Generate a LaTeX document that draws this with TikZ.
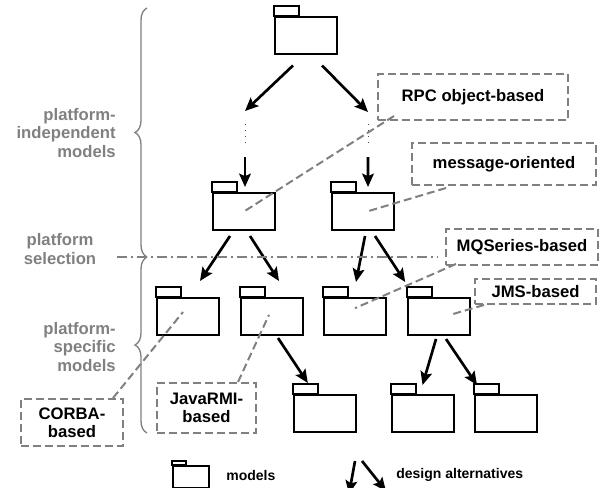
\documentclass[tikz,border=0pt]{standalone}
\usepackage{fontspec}
\setmainfont{Liberation Sans}
\usetikzlibrary{arrows.meta,calc,decorations.pathreplacing}
\definecolor{mgray}{HTML}{808080}
\tikzset{
  >={Stealth[length=8pt,width=7pt,inset=1.5pt]},
  mfolder/.style={draw=black, fill=white, line width=1.2pt, inner sep=0pt,
                  minimum width=37.2pt, minimum height=22.2pt,
                  append after command={\pgfextra{\draw[line width=1.2pt]
                    (\tikzlastnode.north west) rectangle ++(15pt,6pt);}}},
  mlegfolder/.style={draw=black, fill=white, line width=1.2pt, inner sep=0pt,
                  minimum width=21.6pt, minimum height=13pt,
                  append after command={\pgfextra{\draw[line width=1.2pt]
                    (\tikzlastnode.north west) rectangle ++(8.4pt,2.6pt);}}},
  mnote/.style={draw=mgray, line width=1.2pt, dash pattern=on 4.8pt off 2.4pt,
                inner sep=0pt, align=center,
                font=\bfseries\fontsize{10}{11}\selectfont},
  mlink/.style={mgray, line width=1.2pt, dash pattern=on 4.8pt off 2.4pt},
  malt/.style={->, line width=1.6pt},
  mdots/.style={black!70, line width=0.6pt, dash pattern=on 0.6pt off 3pt},
  msep/.style={mgray, line width=0.9pt, dash pattern=on 6pt off 2.5pt on 1pt off 2.5pt},
  mbrace/.style={mgray, line width=0.8pt, decorate,
                 decoration={brace, amplitude=7.2pt}},
  mside/.style={mgray, inner sep=0pt, font=\bfseries\fontsize{10}{11}\selectfont},
  mleg/.style={inner sep=0pt, font=\bfseries\fontsize{8.4}{10}\selectfont},
}

\begin{document}
\begin{tikzpicture}[x=0.6pt,y=-0.6pt]
  \useasboundingbox (0,0) rectangle (602,487);
  \clip (0,0) rectangle (602,487);

  % --- models ---
  \node[mfolder] (top)    at (306,36) {};
  \node[mfolder] (rpcf)   at (244,211.5) {};
  \node[mfolder] (msgf)   at (363,211.5) {};
  \node[mfolder] (corbaf) at (188,316.5) {};
  \node[mfolder] (rmif)   at (272,316.5) {};
  \node[mfolder] (mqf)    at (355,316.5) {};
  \node[mfolder] (jmsf)   at (438.5,316.5) {};
  \node[mfolder] (rmia)   at (324.5,413.5) {};
  \node[mfolder] (jmsa)   at (422.5,413.5) {};
  \node[mfolder] (jmsb)   at (506,413.5) {};

  % --- design alternatives ---
  \coordinate (ltip) at (245,111);
  \coordinate (rtip) at (368,112);
  \draw[malt] ([xshift=-7.8pt,yshift=-6pt]top.south) -- (ltip);
  \draw[malt] ([xshift=9.6pt,yshift=-6pt]top.south) -- (rtip);
  \draw[mdots] ([yshift=-8pt]ltip) -- ++(0,21);
  \draw[mdots] ([yshift=-7.4pt]rtip) -- ++(0,21);
  \draw[malt] ([yshift=-27.6pt]ltip) -- ([xshift=0.6pt,yshift=3pt]rpcf.north);
  \draw[malt] ([yshift=-27pt]rtip) -- ([xshift=3pt,yshift=3pt]msgf.north);

  \draw[malt] ([xshift=-8.4pt,yshift=-3pt]rpcf.south) -- ([xshift=7.2pt,yshift=9.6pt]corbaf.north);
  \draw[malt] ([xshift=3.6pt,yshift=-3pt]rpcf.south) -- ([xshift=4.2pt,yshift=9.6pt]rmif.north);
  \draw[malt] ([xshift=1.2pt,yshift=-3pt]msgf.south) -- ([xshift=0.6pt,yshift=9pt]mqf.north);
  \draw[malt] ([xshift=7.2pt,yshift=-3pt]msgf.south) -- ([xshift=-20pt,yshift=9pt]jmsf.north);
  \draw[malt] ([xshift=3.6pt,yshift=-1.2pt]rmif.south) -- ([xshift=-10pt,yshift=6.6pt]rmia.north);
  \draw[malt] ([xshift=-1.5pt,yshift=-1.8pt]jmsf.south) -- ([yshift=5.4pt]jmsa.north);
  \draw[malt] ([xshift=4.5pt,yshift=-1.8pt]jmsf.south) -- ([xshift=-17.4pt,yshift=5.4pt]jmsb.north);

  % --- notes ---
  \node[mnote, minimum width=114pt, minimum height=27.6pt] (rpc) at (473,97) {RPC object-based};
  \node[mnote, minimum width=110.4pt, minimum height=25.2pt] (msg) at (504,164) {message-oriented};
  \node[mnote, minimum width=91.2pt, minimum height=21.6pt] (mq) at (522,247) {MQSeries-based};
  \node[mnote, minimum width=72.6pt, minimum height=15pt] (jms) at (535.5,291.5) {JMS-based};
  \node[mnote, minimum width=61.2pt, minimum height=28.2pt] (corba) at (72,422.5) {CORBA-\\based};
  \node[mnote, minimum width=59.4pt, minimum height=30pt] (rmi) at (206.5,408) {JavaRMI-\\based};

  \draw[mlink] ([xshift=10.2pt,yshift=3pt]rpc.south west) -- (rpcf.center);
  \draw[mlink] ([xshift=21pt,yshift=-1.2pt]msg.south west) -- ([xshift=2.4pt]msgf.center);
  \draw[mlink] ([xshift=6.6pt,yshift=1.2pt]mq.south west) -- ([yshift=5pt]mqf.center);
  \draw[mlink] ([xshift=6pt]jms.south west) -- ([xshift=7pt,yshift=1pt]jmsf.center);
  \draw[mlink] ([xshift=-6.6pt]corba.north east) -- ([xshift=-3pt,yshift=2.7pt]corbaf.center);
  \draw[mlink] ([xshift=-11.4pt]rmi.north east) -- ([xshift=-1.8pt,yshift=1pt]rmif.center);

  % --- levels ---
  \draw[msep] (117,257) -- (438,257);
  \draw[mbrace] (147,257) -- (147,8);
  \draw[mbrace] (147,433) -- (147,257);
  \node[mside, align=right, anchor=east] (pim) at (116,133) {platform-\\independent\\models};
  \node[mside, align=center] (sel) at (60,249) {platform\\selection};
  \node[mside, align=right, anchor=east] (psm) at (116,347) {platform-\\specific\\models};

  % --- legend ---
  \node[mlegfolder] (legf) at (191,477) {};
  \node[mleg, anchor=west] (legm) at (226,475) {models};
  \draw[malt] (355,461) -- (349,494);
  \draw[malt] (362,461) -- (386,491);
  \node[mleg, anchor=west] (lega) at (396,475) {design alternatives};
\end{tikzpicture}
\end{document}
